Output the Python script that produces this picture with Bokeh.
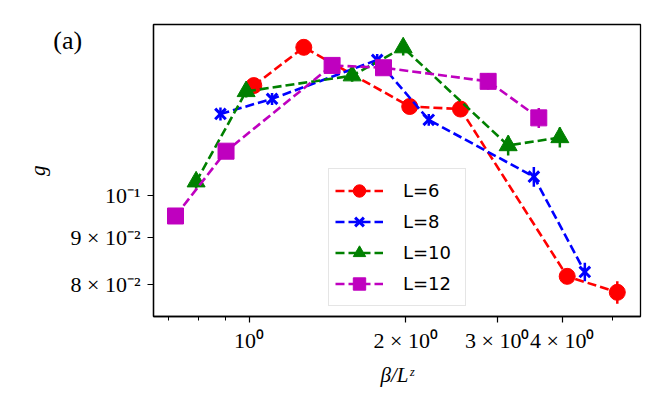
import math
from bokeh.plotting import figure
from bokeh.models import Range1d, FixedTicker, Label, Legend, LegendItem
from bokeh.embed import file_html
from bokeh.resources import INLINE

# ---- data ----
x_L6 = [1.021, 1.274, 2.036, 2.549, 4.088, 5.103]
g_L6 = [0.1316, 0.1448, 0.1249, 0.1241, 0.0817, 0.0785]
e_L6 = [0.0015, 0.0016, 0.0015, 0.0018, 0.0015, 0.0022]

x_L8 = [0.881, 1.107, 1.763, 2.215, 3.527, 4.420]
g_L8 = [0.1226, 0.1273, 0.1403, 0.1208, 0.1048, 0.0826]
e_L8 = [0.0020, 0.0019, 0.0021, 0.0018, 0.0026, 0.0019]

x_L10 = [0.791, 0.987, 1.578, 1.978, 3.148, 3.957]
g_L10 = [0.1035, 0.1297, 0.1349, 0.1447, 0.1133, 0.1156]
e_L10 = [0.0018, 0.0020, 0.0020, 0.0028, 0.0028, 0.0029]

x_L12 = [0.722, 0.903, 1.444, 1.813, 2.881, 3.605]
g_L12 = [0.0950, 0.1117, 0.1384, 0.1376, 0.1330, 0.1214]
e_L12 = [0.0015, 0.0018, 0.0020, 0.0022, 0.0027, 0.0030]

labels = ["L=6", "L=8", "L=10", "L=12"]

x_ticks = [1, 2, 3, 4]
x_minor = [0.7, 0.8, 0.9, 5]
x_tick_labels = ["10⁰", "2 × 10⁰", "3 × 10⁰", "4 × 10⁰"]
y_ticks = [0.08, 0.09, 0.1]
y_tick_labels = ["8 × 10⁻²", "9 × 10⁻²", "10⁻¹"]

SERIF = "Liberation Serif"

p = figure(width=664, height=411, x_axis_type="log", y_axis_type="log",
           x_range=Range1d(0.655, 5.655), y_range=Range1d(0.0739, 0.1533),
           output_backend="svg", toolbar_location=None,
           min_border_left=153, min_border_right=24, min_border_top=24,
           min_border_bottom=95)
p.xgrid.visible = False
p.ygrid.visible = False
p.outline_line_color = "black"
p.outline_line_width = 1.3
p.outline_line_alpha = 1.0
p.background_fill_color = "white"
p.border_fill_color = "white"

series = [
    (x_L6, g_L6, e_L6, "#ff0000", dict(marker="circle", size=16)),
    (x_L8, g_L8, e_L8, "#0000ff", dict(marker="x", size=15)),
    (x_L10, g_L10, e_L10, "#008000", dict(marker="triangle", size=18)),
    (x_L12, g_L12, e_L12, "#bf00bf", dict(marker="square", size=16)),
]

items = []
for (xs, ys, es, col, mk), lab in zip(series, labels):
    lo = [y - e for y, e in zip(ys, es)]
    hi = [y + e for y, e in zip(ys, es)]
    p.segment(x0=xs, y0=lo, x1=xs, y1=hi, line_color=col, line_width=2.5)
    ln = p.line(xs, ys, line_color=col, line_width=2.6, line_dash="9 4")
    if mk["marker"] == "x":
        sc = p.scatter(xs, ys, marker="x", size=mk["size"], line_color=col,
                       line_width=3)
    else:
        sc = p.scatter(xs, ys, marker=mk["marker"], size=mk["size"],
                       fill_color=col, line_color=col, line_width=1)
    items.append(LegendItem(label=lab, renderers=[ln, sc]))

legend = Legend(items=items, location=(175, 10))
legend.label_text_font = "DejaVu Sans"
legend.label_text_font_size = "18px"
legend.label_text_color = "black"
legend.glyph_width = 48
legend.glyph_height = 31
legend.label_height = 31
legend.label_width = 56
legend.spacing = 0
legend.padding = 6
legend.label_standoff = 20
legend.border_line_color = "#cccccc"
legend.border_line_width = 1.2
legend.background_fill_alpha = 0.85
p.add_layout(legend, "center")

# axes
for ax in (p.xaxis[0], p.yaxis[0]):
    ax.axis_line_color = "black"
    ax.axis_line_width = 1.3
    ax.major_tick_line_color = "black"
    ax.minor_tick_line_color = "black"
    ax.major_tick_line_width = 1.2
    ax.minor_tick_line_width = 1.0
    ax.major_tick_in = 0
    ax.major_tick_out = 6
    ax.minor_tick_in = 0
    ax.minor_tick_out = 4
    ax.major_label_text_font = SERIF
    ax.major_label_text_font_size = "22px"
    ax.major_label_text_color = "black"
    ax.axis_label_text_font = SERIF
    ax.axis_label_text_font_size = "21px"
    ax.axis_label_text_font_style = "italic"
    ax.axis_label_text_color = "black"

p.xaxis[0].ticker = FixedTicker(ticks=x_ticks, minor_ticks=x_minor)
p.xaxis[0].major_label_overrides = {t: s for t, s in zip(x_ticks, x_tick_labels)}
p.xaxis[0].major_label_standoff = 5
p.xaxis[0].axis_label = "β/Lᶻ"
p.xaxis[0].axis_label_standoff = 7

p.yaxis[0].ticker = FixedTicker(ticks=y_ticks, minor_ticks=[])
p.yaxis[0].major_label_overrides = {t: s for t, s in zip(y_ticks, y_tick_labels)}
p.yaxis[0].major_label_standoff = 7

# y-axis title and panel tag live in the left side panel (not clipped)
ylab = Label(x=0.3934, y=0.1064, text="g", text_font=SERIF,
             text_font_size="21px", text_font_style="italic",
             text_color="black", angle=math.pi / 2,
             text_baseline="middle", text_align="center")
p.add_layout(ylab, "left")

tag = Label(x=0.4203, y=0.1473, text="(a)", text_font=SERIF,
            text_font_size="26px", text_color="black",
            text_baseline="middle", text_align="left")
p.add_layout(tag, "left")

open("out.html", "w").write(file_html(p, INLINE))
